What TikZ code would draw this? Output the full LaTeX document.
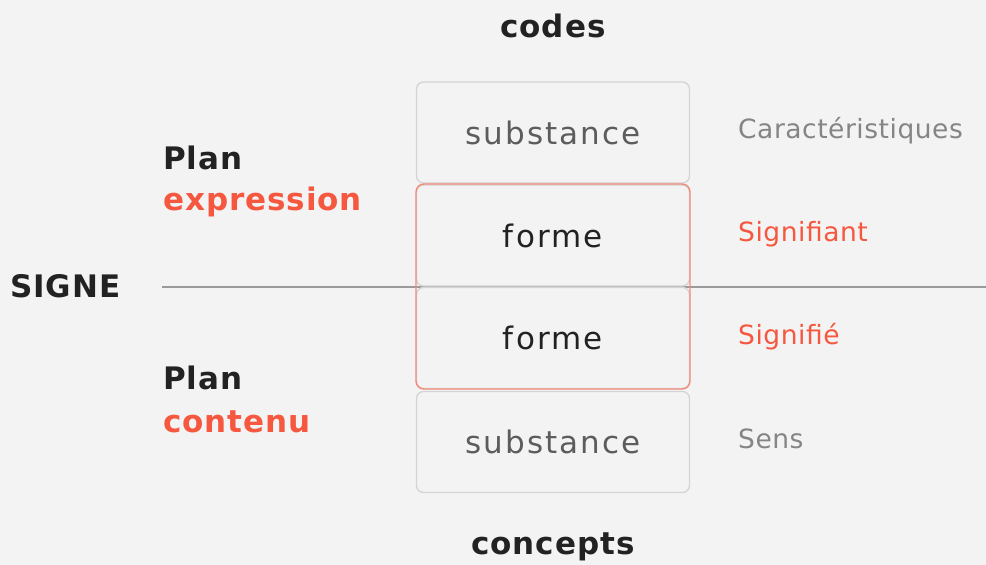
\documentclass[tikz,border=0pt]{standalone}
\usepackage{fontspec}
\setmainfont{DejaVu Sans}
\newfontfamily\cellfont[LetterSpace=7]{DejaVu Sans}
\newfontfamily\labfont[LetterSpace=2]{DejaVu Sans}
\newfontfamily\headfont[LetterSpace=3]{DejaVu Sans}
\definecolor{bg}{HTML}{F3F3F3}
\definecolor{redt}{HTML}{F5573F}
\definecolor{redb}{HTML}{F38B7B}
\definecolor{grayb}{HTML}{D4D4D4}
\definecolor{subst}{HTML}{5C5C5C}
\definecolor{dark}{HTML}{222222}
\definecolor{lab}{HTML}{858585}
\definecolor{axis}{HTML}{9A9A9A}
\begin{document}
\begin{tikzpicture}[x=1pt,y=-1pt,
  cell/.style={draw=grayb,line width=1.3pt,rounded corners=7pt,minimum width=273pt,minimum height=101pt,inner sep=0pt},
  celltxt/.style={font=\cellfont\fontsize{31}{36}\selectfont},
  head/.style={font=\headfont\fontsize{31}{36}\selectfont\bfseries,text=dark},
  side/.style={font=\labfont\fontsize{26.5}{31}\selectfont,anchor=west,inner sep=0pt},
  plan/.style={font=\headfont\fontsize{31}{36}\selectfont\bfseries,anchor=west,inner sep=0pt}]
\fill[bg] (0,0) rectangle (986,565);
\useasboundingbox (0,0) rectangle (986,565);
% axis line
\coordinate (la) at (162,287);
\coordinate (lb) at (986,287);
\draw[axis,line width=1.3pt] (la) -- (lb);
% cells
\node[cell,text=subst,celltxt] (s1) at (553,132.5) {substance};
\node[cell,text=dark,celltxt] (f1) at (553,235.5) {forme};
\node[cell,text=dark,celltxt] (f2) at (553,338) {forme};
\node[cell,text=subst,celltxt] (s2) at (553,442) {substance};
\node[draw=redb,line width=1.4pt,rounded corners=8pt,minimum width=274pt,minimum height=205pt,inner sep=0pt] (red) at (553,286.5) {};
% headings
\node[head] (codes) at (553,26) {codes};
\node[head] (concepts) at (553,547) {concepts};
\node[head,anchor=west,inner sep=0pt] (signe) at (10,286) {SIGNE};
\node[plan,text=dark] (p1) at (163,158) {Plan};
\node[plan,text=redt] (p1b) at (163,202) {expression};
\node[plan,text=dark] (p2) at (163,378) {Plan};
\node[plan,text=redt] (p2b) at (163,422) {contenu};
% side labels
\node[side,text=lab] (c1) at (738,131) {Caractéristiques};
\node[side,text=redt] (c2) at (738,234) {Signifiant};
\node[side,text=redt] (c3) at (738,337) {Signifié};
\node[side,text=lab] (c4) at (738,439) {Sens};
\end{tikzpicture}
\end{document}
